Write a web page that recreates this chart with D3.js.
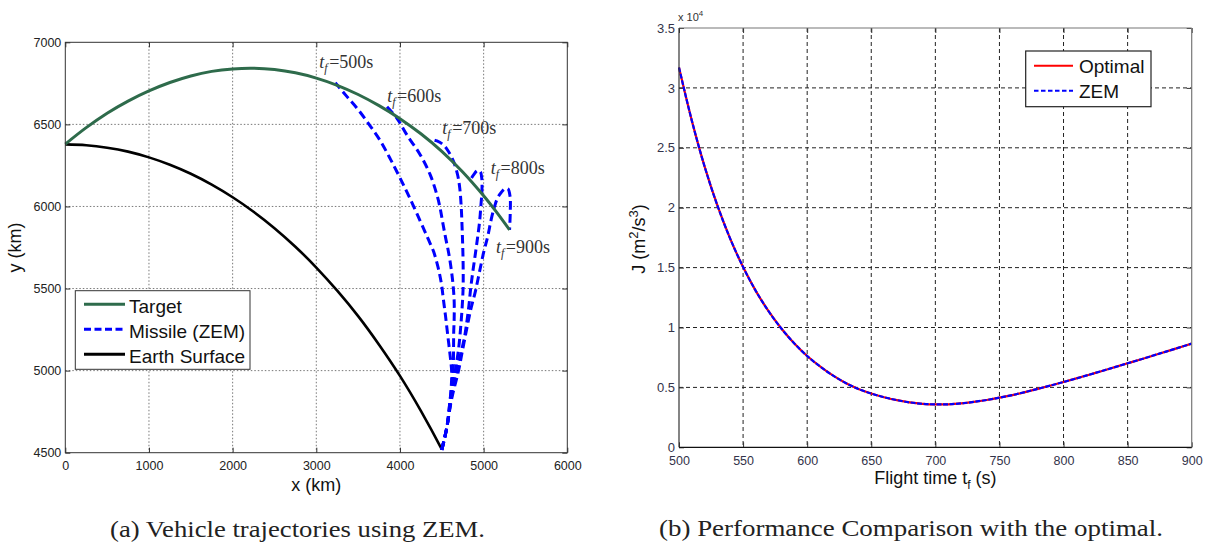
<!DOCTYPE html>
<html>
<head>
<meta charset="utf-8">
<script src="https://cdn.jsdelivr.net/npm/d3@7"></script>
<style>
  html, body { margin: 0; padding: 0; background: #fff; }
  svg { display: block; }
</style>
</head>
<body>
<svg id="fig" width="1210" height="544"></svg>
<script>
// ---------- (a) Vehicle trajectories (km) ----------
const targetX = [0, 250, 500, 750, 1000, 1250, 1500, 1750, 2000, 2250, 2500, 2750, 3000, 3250, 3500, 3750, 4000, 4250, 4500, 4750, 5000, 5150, 5310];
const targetY = [6380, 6480, 6568, 6642, 6704, 6755, 6795, 6823, 6838, 6842, 6834, 6814, 6782, 6738, 6682, 6614, 6535, 6443, 6336, 6210, 6065, 5968, 5857];

const earthX = [0, 250, 500, 750, 1000, 1250, 1500, 1750, 2000, 2250, 2500, 2750, 3000, 3250, 3500, 3750, 4000, 4250, 4500];
const earthY = [6378, 6373, 6358, 6334, 6299, 6254, 6199, 6133, 6056, 5968, 5868, 5755, 5628, 5487, 5332, 5158, 4968, 4755, 4520];

// ZEM missile paths, launch -> intercept, [x, y] in km
const zem500 = [[4500,4517],[4530,4580],[4562,4659],[4590,4780],[4610,4880],[4618,4990],[4600,5090],[4570,5220],[4545,5330],[4520,5430],[4495,5530],[4455,5630],[4402,5725],[4330,5810],[4243,5910],[4123,6045],[4004,6170],[3884,6290],[3765,6400],[3645,6490],[3500,6590],[3367,6669],[3227,6754]];
const zem600 = [[4500,4517],[4562,4659],[4600,4821],[4635,4990],[4640,5100],[4642,5228],[4648,5320],[4648,5420],[4635,5520],[4612,5620],[4581,5720],[4545,5810],[4512,5900],[4480,5990],[4442,6070],[4362,6192],[4243,6314],[4084,6435],[3964,6537],[3845,6608]];
const zem700 = [[4500,4517],[4562,4659],[4608,4821],[4660,4994],[4700,5130],[4725,5260],[4745,5400],[4755,5511],[4755,5640],[4750,5760],[4742,5880],[4732,6000],[4715,6110],[4690,6190],[4641,6273],[4580,6335],[4520,6375],[4442,6399],[4383,6407]];
const zem800 = [[4500,4517],[4562,4659],[4610,4821],[4675,4994],[4720,5090],[4770,5200],[4800,5300],[4825,5400],[4845,5500],[4870,5600],[4898,5700],[4925,5800],[4950,5900],[4968,6009],[4980,6100],[4978,6170],[4960,6212],[4925,6218],[4880,6192],[4840,6161]];
const zem900 = [[4500,4517],[4562,4659],[4615,4821],[4700,5000],[4750,5130],[4800,5260],[4845,5370],[4900,5480],[4950,5600],[5000,5720],[5050,5820],[5090,5920],[5125,5990],[5165,6050],[5210,6085],[5255,6108],[5290,6108],[5316,6060],[5318,5960],[5310,5857]];
const zemPaths = [zem500, zem600, zem700, zem800, zem900];
const flightTimeLabels = ["500", "600", "700", "800", "900"];

const xTicksA = [0, 1000, 2000, 3000, 4000, 5000, 6000];
const yTicksA = [4500, 5000, 5500, 6000, 6500, 7000];
const legendA = ["Target", "Missile (ZEM)", "Earth Surface"];

// ---------- (b) Cost J vs flight time ----------
const flightTime = [500, 510, 520, 530, 540, 550, 560, 570, 580, 590, 600, 610, 620, 630, 640, 650, 660, 670, 680, 690, 700, 710, 720, 730, 740, 750, 760, 770, 780, 790, 800, 810, 820, 830, 840, 850, 860, 870, 880, 890, 900];
const costOptimal = [31700, 27270, 23430, 20170, 17400, 15050, 13040, 11340, 9900, 8670, 7620, 6750, 6000, 5370, 4870, 4490, 4180, 3940, 3750, 3630, 3580, 3590, 3660, 3790, 3950, 4140, 4360, 4610, 4880, 5160, 5450, 5750, 6060, 6370, 6690, 7010, 7330, 7660, 7990, 8320, 8650];
const costZEM     = [31700, 27270, 23430, 20170, 17400, 15050, 13040, 11340, 9900, 8670, 7620, 6750, 6000, 5370, 4870, 4490, 4180, 3940, 3750, 3630, 3580, 3590, 3660, 3790, 3950, 4140, 4360, 4610, 4880, 5160, 5450, 5750, 6060, 6370, 6690, 7010, 7330, 7660, 7990, 8320, 8650];

const xTicksB = [500, 550, 600, 650, 700, 750, 800, 850, 900];
const yTicksB = [0, 5000, 10000, 15000, 20000, 25000, 30000, 35000];
const legendB = ["Optimal", "ZEM"];

// ---------- drawing ----------
const SANS = "'Liberation Sans', Arial, Helvetica, sans-serif";
const SERIF = "'Liberation Serif', 'Times New Roman', serif";
const svg = d3.select("#fig");

function styleAxis(g, color, size) {
  g.select(".domain").remove();
  g.attr("font-family", SANS).attr("font-size", size).attr("color", color);
  g.selectAll(".tick line").attr("stroke", "#333");
}

// ===== Panel (a) =====
const A = { left: 65.3, right: 567.3, top: 42.3, bottom: 452.7 };
const xA = d3.scaleLinear().domain([0, 6000]).range([A.left, A.right]);
const yA = d3.scaleLinear().domain([4500, 7000]).range([A.bottom, A.top]);
const gA = svg.append("g");

// dotted grid
gA.append("g").selectAll("line").data(xTicksA.slice(1, -1)).join("line")
  .attr("x1", d => xA(d)).attr("x2", d => xA(d)).attr("y1", A.top).attr("y2", A.bottom)
  .attr("stroke", "#555").attr("stroke-width", 0.8).attr("stroke-dasharray", "1.5,2");
gA.append("g").selectAll("line").data(yTicksA.slice(1, -1)).join("line")
  .attr("y1", d => yA(d)).attr("y2", d => yA(d)).attr("x1", A.left).attr("x2", A.right)
  .attr("stroke", "#555").attr("stroke-width", 0.8).attr("stroke-dasharray", "1.5,2");

// axes (inward ticks on all four sides)
gA.append("g").attr("transform", `translate(0,${A.bottom})`)
  .call(d3.axisBottom(xA).tickValues(xTicksA).tickSize(-5).tickPadding(8).tickFormat(d3.format("d")))
  .call(g => styleAxis(g, "#222", 12.5));
gA.append("g").attr("transform", `translate(${A.left},0)`)
  .call(d3.axisLeft(yA).tickValues(yTicksA).tickSize(-5).tickPadding(4).tickFormat(d3.format("d")))
  .call(g => styleAxis(g, "#222", 12.5));
gA.append("g").attr("transform", `translate(0,${A.top})`)
  .call(d3.axisTop(xA).tickValues(xTicksA).tickSize(-5).tickFormat(""))
  .call(g => styleAxis(g, "#222", 12.5));
gA.append("g").attr("transform", `translate(${A.right},0)`)
  .call(d3.axisRight(yA).tickValues(yTicksA).tickSize(-5).tickFormat(""))
  .call(g => styleAxis(g, "#222", 12.5));

const lineA = d3.line().x(d => xA(d[0])).y(d => yA(d[1])).curve(d3.curveCatmullRom.alpha(0.5));

// Earth surface
gA.append("path").datum(d3.zip(earthX, earthY)).attr("d", lineA)
  .attr("fill", "none").attr("stroke", "#000").attr("stroke-width", 2.6);

// missile trajectories
gA.append("g").selectAll("path").data(zemPaths).join("path").attr("d", lineA)
  .attr("fill", "none").attr("stroke", "#0000ff").attr("stroke-width", 3)
  .attr("stroke-dasharray", "8.5,4.5");

// target trajectory
gA.append("path").datum(d3.zip(targetX, targetY)).attr("d", lineA)
  .attr("fill", "none").attr("stroke", "#2e6b4b").attr("stroke-width", 3);

// t_f annotations, anchored in data units
const labelAnchors = [[3036, 6842], [3848, 6635], [4506, 6441], [5084, 6198], [5147, 5715]];
flightTimeLabels.forEach((lab, i) => {
  const t = gA.append("text")
    .attr("x", xA(labelAnchors[i][0])).attr("y", yA(labelAnchors[i][1]))
    .attr("font-family", SERIF).attr("font-size", 18).attr("fill", "#333");
  t.append("tspan").attr("font-style", "italic").text("t");
  t.append("tspan").attr("font-style", "italic").attr("font-size", 12).attr("dy", 4).text("f");
  t.append("tspan").attr("dy", -4).attr("dx", 1.5).text("=" + lab + "s");
});

// box
gA.append("rect").attr("x", A.left).attr("y", A.top)
  .attr("width", A.right - A.left).attr("height", A.bottom - A.top)
  .attr("fill", "none").attr("stroke", "#333").attr("stroke-width", 1);

// axis labels
gA.append("text").attr("x", (A.left + A.right) / 2).attr("y", 491)
  .attr("text-anchor", "middle").attr("font-family", SANS).attr("font-size", 18).attr("fill", "#111")
  .text("x (km)");
gA.append("text").attr("transform", `translate(21,${(A.top + A.bottom) / 2}) rotate(-90)`)
  .attr("text-anchor", "middle").attr("font-family", SANS).attr("font-size", 18).attr("fill", "#111")
  .text("y (km)");

// legend (a)
const legA = gA.append("g");
legA.append("rect").attr("x", 75.3).attr("y", 290.7).attr("width", 174.7).attr("height", 78.6)
  .attr("fill", "#fff").attr("stroke", "#333").attr("stroke-width", 1);
const legStylesA = [
  { stroke: "#2e6b4b", dash: null },
  { stroke: "#0000ff", dash: "7,3.5" },
  { stroke: "#000", dash: null }
];
legendA.forEach((name, i) => {
  const y = 304.3 + i * 25;
  legA.append("line").attr("x1", 84).attr("x2", 125).attr("y1", y).attr("y2", y)
    .attr("stroke", legStylesA[i].stroke).attr("stroke-width", 3)
    .attr("stroke-dasharray", legStylesA[i].dash);
  legA.append("text").attr("x", 129).attr("y", y + 8.5)
    .attr("font-family", SANS).attr("font-size", 19).attr("fill", "#111").text(name);
});

// caption (a)
svg.append("text").attr("x", 297.5).attr("y", 537).attr("text-anchor", "middle")
  .attr("font-family", SERIF).attr("font-size", 23).attr("fill", "#222")
  .attr("textLength", 375).attr("lengthAdjust", "spacingAndGlyphs")
  .text("(a) Vehicle trajectories using ZEM.");

// ===== Panel (b) =====
const B = { left: 679, right: 1191.7, top: 28, bottom: 447.3 };
const xB = d3.scaleLinear().domain([500, 900]).range([B.left, B.right]);
const yB = d3.scaleLinear().domain([0, 35000]).range([B.bottom, B.top]);
const gB = svg.append("g");

// dashed grid
gB.append("g").selectAll("line").data(xTicksB.slice(1, -1)).join("line")
  .attr("x1", d => xB(d)).attr("x2", d => xB(d)).attr("y1", B.top).attr("y2", B.bottom)
  .attr("stroke", "#222").attr("stroke-width", 1).attr("stroke-dasharray", "4,3");
gB.append("g").selectAll("line").data(yTicksB.slice(1, -1)).join("line")
  .attr("y1", d => yB(d)).attr("y2", d => yB(d)).attr("x1", B.left).attr("x2", B.right)
  .attr("stroke", "#222").attr("stroke-width", 1).attr("stroke-dasharray", "4,3");

gB.append("g").attr("transform", `translate(0,${B.bottom})`)
  .call(d3.axisBottom(xB).tickValues(xTicksB).tickSize(-5).tickPadding(8.5).tickFormat(d3.format("d")))
  .call(g => styleAxis(g, "#33334a", 12.5));
gB.append("g").attr("transform", `translate(${B.left},0)`)
  .call(d3.axisLeft(yB).tickValues(yTicksB).tickSize(-5).tickPadding(4).tickFormat(d => d3.format("~g")(d / 1e4)))
  .call(g => styleAxis(g, "#33334a", 13));
gB.append("g").attr("transform", `translate(0,${B.top})`)
  .call(d3.axisTop(xB).tickValues(xTicksB).tickSize(-5).tickFormat(""))
  .call(g => styleAxis(g, "#33334a", 13));
gB.append("g").attr("transform", `translate(${B.right},0)`)
  .call(d3.axisRight(yB).tickValues(yTicksB).tickSize(-5).tickFormat(""))
  .call(g => styleAxis(g, "#33334a", 13));

const lineB = d3.line().x(d => xB(d[0])).y(d => yB(d[1])).curve(d3.curveCatmullRom.alpha(0.5));
gB.append("path").datum(d3.zip(flightTime, costOptimal)).attr("d", lineB)
  .attr("fill", "none").attr("stroke", "#ff0000").attr("stroke-width", 2.2);
gB.append("path").datum(d3.zip(flightTime, costZEM)).attr("d", lineB)
  .attr("fill", "none").attr("stroke", "#0000ff").attr("stroke-width", 2.2)
  .attr("stroke-dasharray", "5,1.5");

// box: darker left/bottom, lighter top/right
gB.append("line").attr("x1", B.left).attr("x2", B.right).attr("y1", B.top).attr("y2", B.top)
  .attr("stroke", "#777").attr("stroke-width", 1.2);
gB.append("line").attr("x1", B.right).attr("x2", B.right).attr("y1", B.top).attr("y2", B.bottom)
  .attr("stroke", "#777").attr("stroke-width", 1.2);
gB.append("line").attr("x1", B.left).attr("x2", B.right).attr("y1", B.bottom).attr("y2", B.bottom)
  .attr("stroke", "#111").attr("stroke-width", 1.2);
gB.append("line").attr("x1", B.left).attr("x2", B.left).attr("y1", B.top).attr("y2", B.bottom)
  .attr("stroke", "#333").attr("stroke-width", 1.2);

// exponent marker
const exp = gB.append("text").attr("x", 678).attr("y", 21)
  .attr("font-family", SANS).attr("font-size", 11).attr("fill", "#333").text("x 10");
exp.append("tspan").attr("font-size", 8).attr("dy", -5).text("4");

// axis labels
const xl = gB.append("text").attr("x", (B.left + B.right) / 2).attr("y", 484)
  .attr("text-anchor", "middle").attr("font-family", SANS).attr("font-size", 18).attr("fill", "#111");
xl.append("tspan").text("Flight time t");
xl.append("tspan").attr("font-size", 12).attr("dy", 5).text("f");
xl.append("tspan").attr("dy", -5).text(" (s)");

const yl = gB.append("text").attr("transform", `translate(645,239) rotate(-90)`)
  .attr("text-anchor", "middle").attr("font-family", SANS).attr("font-size", 18).attr("fill", "#111");
yl.append("tspan").text("J (m");
yl.append("tspan").attr("font-size", 13).attr("dy", -7).text("2");
yl.append("tspan").attr("dy", 7).text("/s");
yl.append("tspan").attr("font-size", 13).attr("dy", -7).text("3");
yl.append("tspan").attr("dy", 7).text(")");

// legend (b)
const legB = gB.append("g");
legB.append("rect").attr("x", 1025.7).attr("y", 51).attr("width", 125.3).attr("height", 55.7)
  .attr("fill", "#fff").attr("stroke", "#222").attr("stroke-width", 1.2);
const legStylesB = [
  { stroke: "#ff0000", dash: null },
  { stroke: "#0000ff", dash: "4.5,2.5" }
];
legendB.forEach((name, i) => {
  const y = 65.7 + i * 25;
  legB.append("line").attr("x1", 1034).attr("x2", 1073).attr("y1", y).attr("y2", y)
    .attr("stroke", legStylesB[i].stroke).attr("stroke-width", 2)
    .attr("stroke-dasharray", legStylesB[i].dash);
  legB.append("text").attr("x", 1079).attr("y", y + 7.6)
    .attr("font-family", SANS).attr("font-size", 19).attr("fill", "#111").text(name);
});

// caption (b)
svg.append("text").attr("x", 911).attr("y", 536).attr("text-anchor", "middle")
  .attr("font-family", SERIF).attr("font-size", 23).attr("fill", "#222")
  .attr("textLength", 504).attr("lengthAdjust", "spacingAndGlyphs")
  .text("(b) Performance Comparison with the optimal.");
</script>
</body>
</html>
